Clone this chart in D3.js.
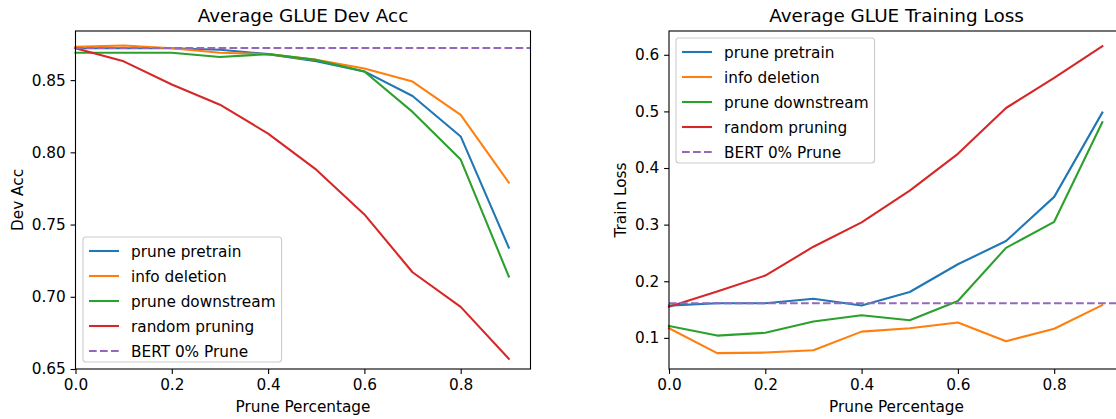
<!DOCTYPE html>
<html>
<head>
<meta charset="utf-8">
<script src="https://cdn.jsdelivr.net/npm/d3@7"></script>
<style>
  html, body { margin: 0; padding: 0; background: #fff; }
  svg { display: block; }
  text { font-family: "DejaVu Sans", sans-serif; fill: #000; }
</style>
</head>
<body>
<svg id="chart" width="1116" height="419"></svg>
<script>
// ---- data ----
const prunePct = [0.0, 0.1, 0.2, 0.3, 0.4, 0.5, 0.6, 0.7, 0.8, 0.9];
const seriesNames = ["prune pretrain", "info deletion", "prune downstream", "random pruning"];
const baselineName = "BERT 0% Prune";

const devPrunePretrain   = [0.872, 0.872, 0.872, 0.871, 0.868, 0.863, 0.856, 0.839, 0.811, 0.734];
const devInfoDeletion    = [0.873, 0.874, 0.872, 0.869, 0.868, 0.864, 0.858, 0.849, 0.826, 0.779];
const devPruneDownstream = [0.869, 0.869, 0.869, 0.866, 0.868, 0.864, 0.856, 0.828, 0.795, 0.714];
const devRandomPruning   = [0.872, 0.863, 0.847, 0.833, 0.813, 0.788, 0.757, 0.717, 0.693, 0.657];
const devBaseline = 0.8722;

const lossPrunePretrain   = [0.157, 0.161, 0.161, 0.169, 0.157, 0.181, 0.230, 0.271, 0.349, 0.498];
const lossInfoDeletion    = [0.117, 0.073, 0.074, 0.078, 0.111, 0.117, 0.127, 0.094, 0.116, 0.158];
const lossPruneDownstream = [0.121, 0.104, 0.109, 0.129, 0.140, 0.131, 0.165, 0.259, 0.305, 0.481];
const lossRandomPruning   = [0.155, 0.182, 0.210, 0.261, 0.304, 0.360, 0.425, 0.506, 0.559, 0.615];
const lossBaseline = 0.161;

const xTicks = [0.0, 0.2, 0.4, 0.6, 0.8];
const devTicks = [0.65, 0.70, 0.75, 0.80, 0.85];
const lossTicks = [0.1, 0.2, 0.3, 0.4, 0.5, 0.6];

const colors = ["#1f77b4", "#ff7f0e", "#2ca02c", "#d62728"];
const baseColor = "#9467bd";

const FS = 15.3;      // tick / label / legend font size
const TFS = 18.4;     // title font size

const svg = d3.select("#chart");
svg.append("rect").attr("width", 1116).attr("height", 419).attr("fill", "#fff");

function drawPanel(opt) {
  const { left, top, width, height, xDomain, yDomain, yTicks, yFmt, series, baseline,
          title, ylabel, ylabelX, legendPos } = opt;
  const x = d3.scaleLinear().domain(xDomain).range([left, left + width]);
  const y = d3.scaleLinear().domain(yDomain).range([top + height, top]);
  const g = svg.append("g");

  // lines
  const line = d3.line().x((d, i) => x(prunePct[i])).y(d => y(d));
  series.forEach((s, i) => {
    g.append("path").datum(s).attr("d", line)
      .attr("fill", "none").attr("stroke", colors[i]).attr("stroke-width", 2.08)
      .attr("stroke-linejoin", "round").attr("stroke-linecap", "square");
  });
  g.append("line")
    .attr("x1", x(xDomain[0])).attr("x2", x(xDomain[1]))
    .attr("y1", y(baseline)).attr("y2", y(baseline))
    .attr("stroke", baseColor).attr("stroke-width", 2.08)
    .attr("stroke-dasharray", "7.7,3.3");

  // axes
  const xAxis = d3.axisBottom(x).tickValues(xTicks).tickFormat(d3.format(".1f"))
    .tickSize(4.9).tickPadding(4.2);
  const gx = g.append("g").attr("transform", `translate(0,${top + height})`).call(xAxis);
  const yAxis = d3.axisLeft(y).tickValues(yTicks).tickFormat(d3.format(yFmt))
    .tickSize(4.9).tickPadding(4.8);
  const gy = g.append("g").attr("transform", `translate(${left},0)`).call(yAxis);
  [gx, gy].forEach(a => {
    a.select(".domain").remove();
    a.selectAll(".tick line").attr("stroke", "#000").attr("stroke-width", 1.1);
    a.selectAll(".tick text").attr("font-size", FS + "px")
      .attr("font-family", "DejaVu Sans, sans-serif").attr("fill", "#000");
  });
  gx.selectAll(".tick text").attr("dy", "0.76em");

  // frame
  g.append("rect").attr("x", left).attr("y", top).attr("width", width).attr("height", height)
    .attr("fill", "none").attr("stroke", "#000").attr("stroke-width", 1.1);

  // title and labels
  g.append("text").attr("x", left + width / 2).attr("y", top - 9)
    .attr("text-anchor", "middle").attr("font-size", TFS + "px").text(title);
  g.append("text").attr("x", left + width / 2).attr("y", 412)
    .attr("text-anchor", "middle").attr("font-size", FS + "px").text("Prune Percentage");
  g.append("text").attr("transform", `translate(${ylabelX},${top + height / 2}) rotate(-90)`)
    .attr("text-anchor", "middle").attr("font-size", FS + "px").text(ylabel);

  // legend
  const names = seriesNames.concat([baselineName]);
  const lg = g.append("g");
  const box = lg.append("rect");
  const pitch = 25, pad = 6, hLen = 30, gap = 12;
  let maxW = 0;
  names.forEach((n, i) => {
    const cy = legendPos.top + 14 + i * pitch;
    const hx = legendPos.left + pad;
    lg.append("line").attr("x1", hx).attr("x2", hx + hLen).attr("y1", cy).attr("y2", cy)
      .attr("stroke", i < 4 ? colors[i] : baseColor).attr("stroke-width", 2.08)
      .attr("stroke-dasharray", i < 4 ? null : "7.7,3.3");
    const t = lg.append("text").attr("x", hx + hLen + gap).attr("y", cy + 5.5)
      .attr("font-size", FS + "px").text(n);
    maxW = Math.max(maxW, t.node().getComputedTextLength());
  });
  box.attr("x", legendPos.left).attr("y", legendPos.top)
    .attr("width", pad + hLen + gap + maxW + pad)
    .attr("height", 125).attr("rx", 3).attr("ry", 3)
    .attr("fill", "#fff").attr("fill-opacity", 0.8)
    .attr("stroke", "#cccccc").attr("stroke-width", 1.1);
}

drawPanel({
  left: 75.5, top: 31, width: 455, height: 338,
  xDomain: [0, 0.945], yDomain: [0.65, 0.884], yTicks: devTicks, yFmt: ".2f",
  series: [devPrunePretrain, devInfoDeletion, devPruneDownstream, devRandomPruning],
  baseline: devBaseline, title: "Average GLUE Dev Acc", ylabel: "Dev Acc", ylabelX: 23,
  legendPos: { left: 83, top: 237 }
});

drawPanel({
  left: 669, top: 31, width: 455, height: 338,
  xDomain: [0, 0.945], yDomain: [0.045, 0.642], yTicks: lossTicks, yFmt: ".1f",
  series: [lossPrunePretrain, lossInfoDeletion, lossPruneDownstream, lossRandomPruning],
  baseline: lossBaseline, title: "Average GLUE Training Loss", ylabel: "Train Loss", ylabelX: 626,
  legendPos: { left: 676, top: 38 }
});
</script>
</body>
</html>
